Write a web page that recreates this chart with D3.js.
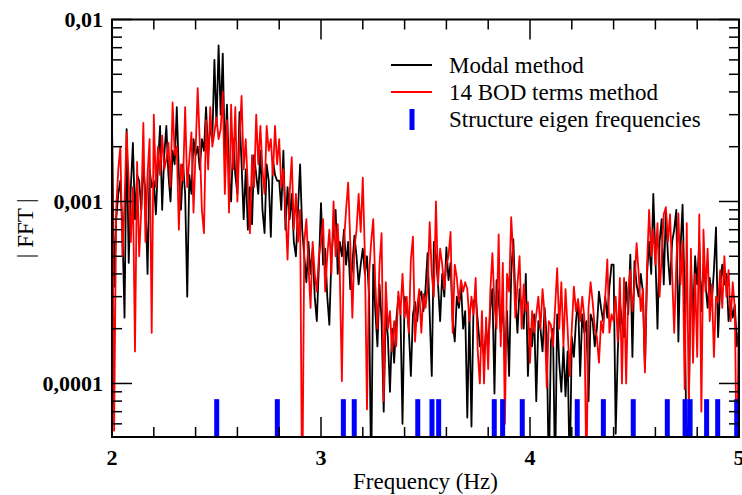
<!DOCTYPE html>
<html>
<head>
<meta charset="utf-8">
<script src="https://cdn.jsdelivr.net/npm/d3@7"></script>
<style>
  body { margin: 0; background: #fff; }
  svg { display: block; }
  svg text { font-family: 'Liberation Serif', 'DejaVu Serif', 'Times New Roman', Times, serif; }
</style>
</head>
<body>
<svg id="chart" width="742" height="495"></svg>
<script>
// spectrum sampled every 0.01 Hz from 2 Hz to 5 Hz
const freqStart = 2, freqStep = 0.01;

// |FFT| of the modal method (black)
const modalValues = [
  2.7e-3, 3.4e-4, 8e-4, 1.1e-3, 1.3e-3, 7e-4, 2.3e-4, 2.5e-3, 4.6e-4, 1.2e-3,
  2.1e-3, 8e-4, 1.4e-3, 1.3e-3, 9e-4, 1.6e-3, 1.1e-3, 4e-4, 1.5e-3, 1.2e-3,
  1.3e-3, 8.5e-4, 1.6e-3, 2.6e-3, 9e-4, 1.8e-3, 2.6e-3, 1.4e-3, 1e-3, 1.9e-3,
  1.6e-3, 3.3e-3, 1.4e-3, 9e-4, 1.6e-3, 1.1e-3, 3e-4, 1.4e-3, 1.1e-3, 2.2e-3,
  1.8e-3, 2e-3, 1.5e-3, 2.2e-3, 1.9e-3, 3.3e-3, 1.8e-3, 2.6e-3, 2.2e-3, 6e-3,
  2.6e-3, 7.2e-3, 3e-3, 6.5e-3, 1.7e-3, 3.4e-3, 1.4e-3, 1e-3, 2.2e-3, 1.4e-3,
  1.1e-3, 3.1e-3, 1.6e-3, 8e-4, 1.5e-3, 7e-4, 1.2e-3, 7.5e-4, 1.8e-3, 1.4e-3,
  1.1e-3, 1.9e-3, 9e-4, 6.7e-4, 1.6e-3, 1.3e-3, 6.4e-4, 1.7e-3, 1.4e-3, 1.3e-3,
  1.3e-3, 9e-4, 1.9e-3, 7e-4, 1.2e-3, 8e-4, 1.1e-3, 6e-4, 5e-4, 9e-4,
  1.6e-3, 7e-4, 5e-4, 3.6e-4, 6e-4, 4e-4, 5.5e-4, 3e-4, 2.2e-4, 4.5e-4,
  9.8e-4, 4.5e-4, 5.5e-4, 3e-4, 2.1e-4, 5e-4, 7e-4, 9e-4, 4e-4, 6e-4,
  5e-4, 7e-4, 4.5e-4, 6e-4, 3.3e-4, 4.5e-4, 6.5e-4, 5e-4, 3.5e-4, 4.5e-4,
  5.5e-4, 4e-4, 5e-4, 3e-4, 3e-5, 4.5e-4, 2.5e-4, 1.6e-4, 3.5e-4, 2.2e-4,
  7e-5, 2.5e-4, 1.8e-4, 9e-5, 2e-4, 1.3e-4, 2.2e-4, 3e-4, 2.5e-4, 6e-5,
  3e-4, 2.6e-4, 2e-4, 1.1e-4, 2.4e-4, 2.8e-4, 2.2e-4, 3e-4, 3.2e-4, 2.5e-4,
  3.3e-4, 5.2e-4, 2.4e-4, 1.1e-4, 6e-4, 5e-4, 3.5e-4, 2.2e-4, 4e-4, 3e-4,
  5.6e-4, 3.7e-4, 4.6e-4, 2.2e-4, 1.7e-4, 3e-4, 2.6e-4, 3.5e-4, 2e-4, 2.5e-4,
  6.5e-5, 2.5e-4, 5.8e-5, 2.8e-4, 3e-4, 2.2e-4, 1.6e-4, 1.7e-4, 1.4e-4, 2e-4,
  1.6e-4, 2.6e-4, 3.3e-4, 8.8e-5, 3.7e-4, 3e-4, 1.9e-4, 2.8e-4, 1.3e-4, 2.5e-4,
  1.1e-4, 4e-4, 6.2e-4, 3e-4, 1.9e-4, 3.3e-4, 2.6e-4, 2e-4, 4e-4, 1.1e-4,
  2e-4, 1.6e-4, 2.4e-4, 8e-5, 2.2e-4, 2e-4, 1.5e-4, 2.6e-4, 1.8e-4, 3e-5,
  1.7e-4, 2e-4, 3e-5, 2.4e-4, 1.3e-4, 9e-5, 1.6e-4, 8.5e-5, 1.5e-4, 3e-5,
  1.8e-4, 1.4e-4, 2.2e-4, 2.9e-4, 1.1e-4, 2.4e-4, 1.9e-4, 2.2e-4, 8e-5, 2.4e-4,
  2.2e-4, 1.6e-4, 2e-4, 3.2e-4, 2.6e-4, 2.2e-4, 3e-4, 2.3e-4, 3.4e-4, 4.5e-4,
  4.5e-4, 5.3e-5, 1.5e-4, 2.8e-4, 2.2e-4, 1.8e-4, 3.6e-4, 2.4e-4, 5.1e-4, 1.4e-4,
  4.7e-4, 3.5e-4, 3e-4, 4e-4, 3.2e-4, 1.2e-4, 4e-4, 6e-4, 4e-4, 1.1e-3,
  5e-4, 2e-4, 6e-4, 8e-4, 3.5e-4, 8.8e-4, 5e-4, 3.5e-4, 6e-4, 7e-4,
  9e-4, 1.7e-4, 5.5e-4, 9.6e-4, 3e-4, 3e-5, 7.9e-5, 4.5e-4, 2.2e-4, 5e-4,
  3.5e-4, 6e-4, 2.5e-4, 4.5e-4, 3.5e-4, 2.6e-4, 3.8e-4, 2.8e-4, 4.2e-4, 7.2e-4,
  1.8e-4, 3.4e-4, 4.5e-4, 3.5e-4, 4e-4, 2.2e-4, 2.8e-4, 2.3e-4, 2.7e-4, 1.6e-4, 2e-4
];

// |FFT| of the 14 BOD terms method (red)
const bodValues = [
  2.8e-3, 5.5e-5, 9e-4, 1.5e-3, 2e-3, 5e-4, 1e-3, 2.4e-3, 1.3e-3, 6e-4,
  1.2e-3, 1.5e-4, 1.65e-3, 5e-4, 9e-4, 2.7e-3, 6e-4, 1.4e-3, 2.2e-3, 1.9e-4,
  3e-3, 1.2e-3, 2e-3, 1.4e-3, 2.3e-3, 1.5e-3, 1.7e-3, 2.1e-3, 1.2e-3, 3.5e-3,
  1.8e-3, 2e-3, 7e-4, 1.6e-3, 1.3e-3, 3.3e-3, 1.2e-3, 1.7e-3, 2.4e-3, 8.7e-4,
  1.9e-3, 4.2e-3, 2.1e-3, 9e-4, 6.7e-4, 2.8e-3, 1.5e-3, 3.3e-3, 2e-3, 2.4e-3,
  2.9e-3, 2.2e-3, 2.5e-3, 4e-3, 1.1e-3, 2.8e-3, 8.7e-4, 3.4e-3, 1.5e-3, 3.3e-3,
  1e-3, 2.2e-3, 3.8e-3, 1.5e-3, 2.2e-3, 1.2e-3, 6.7e-4, 1.8e-3, 1.2e-3, 3e-3,
  1.6e-3, 2.6e-3, 1.5e-3, 1.1e-3, 2.6e-3, 1.9e-3, 2.2e-3, 1.4e-3, 2.6e-3, 1.6e-3,
  2.2e-3, 1.2e-3, 1.5e-3, 9e-4, 4.8e-4, 1.1e-3, 1.75e-3, 7e-4, 1.1e-3, 6e-4,
  9e-4, 2e-5, 6e-4, 8e-4, 4.5e-4, 2.6e-4, 6e-4, 4e-4, 3.2e-4, 5e-4,
  6e-4, 8e-4, 3.2e-4, 5e-4, 7e-4, 4e-4, 1e-3, 5e-4, 7.5e-4, 4e-4,
  1.03e-4, 6e-4, 9e-4, 1.27e-3, 6e-4, 2.3e-4, 5.5e-4, 7e-4, 1.1e-3, 6.8e-4,
  1.35e-3, 5e-4, 7.2e-5, 4e-4, 6e-4, 8e-4, 3.5e-4, 2e-4, 4.5e-4, 6.7e-4,
  8e-5, 3.6e-4, 2e-4, 2.5e-4, 1.5e-4, 2.2e-4, 1.6e-4, 3.2e-4, 2.4e-4, 4e-4,
  2.3e-4, 3e-4, 1.9e-4, 4.8e-4, 6.4e-4, 1.7e-4, 2.6e-4, 3.3e-4, 1.9e-4, 3.1e-4,
  2.6e-4, 3.4e-4, 7.7e-4, 4e-4, 3e-4, 1e-3, 3.5e-4, 5.5e-4, 4.5e-4, 3.3e-4,
  4.5e-4, 5e-4, 6.8e-4, 1.9e-4, 4.5e-4, 3.8e-4, 2.8e-4, 3.7e-4, 3.2e-4, 3.6e-4,
  3.3e-4, 2.2e-4, 3e-4, 2.4e-4, 3.8e-4, 1.5e-4, 1e-4, 2.5e-4, 1e-4, 2.3e-4,
  1.2e-4, 3.2e-4, 5.2e-4, 2.7e-4, 2e-4, 6.6e-4, 1.6e-4, 4.6e-4, 6e-5, 4e-4,
  3.2e-4, 8.2e-4, 5e-4, 2.3e-4, 3.5e-4, 5e-4, 2e-4, 3.5e-4, 2.5e-4, 2.8e-4,
  1.3e-4, 2.5e-4, 1.9e-4, 2.4e-4, 3e-4, 2e-4, 3.3e-4, 2.4e-4, 9.5e-5, 2.2e-4,
  2.1e-4, 1.6e-4, 2.6e-4, 4.3e-4, 2e-4, 3.6e-4, 1.6e-4, 3.3e-4, 2e-4, 1.1e-4,
  2e-4, 3.4e-4, 2.5e-4, 2.9e-4, 2.2e-4, 3e-4, 2.3e-4, 3e-5, 2.6e-4, 3.6e-4,
  2.8e-4, 2e-4, 1.8e-4, 1.3e-4, 2.2e-4, 1.9e-4, 3e-4, 4.8e-4, 1.9e-4, 2.4e-4,
  2.2e-4, 3e-4, 1.7e-4, 3.8e-4, 1e-4, 3.8e-4, 1e-4, 3.2e-4, 4.2e-4, 2.5e-4,
  3.5e-4, 5.9e-4, 4e-4, 2.5e-4, 3.3e-4, 1.15e-4, 4.5e-4, 9e-4, 5e-4, 7e-4,
  4.5e-4, 7.6e-4, 3e-4, 5e-4, 8.5e-4, 9.3e-4, 6e-4, 8.5e-4, 4e-4, 1.9e-4,
  4.5e-4, 8.6e-4, 3.5e-4, 6e-4, 9.3e-5, 7.6e-4, 7e-5, 5.5e-4, 1.3e-4, 4e-4,
  1.4e-4, 8.5e-4, 7e-5, 7e-4, 3.2e-4, 5.5e-4, 2.2e-4, 3.5e-4, 1.4e-4, 3e-4,
  2.8e-4, 4.2e-4, 2.6e-4, 5e-4, 3e-4, 4.2e-4, 2.2e-4, 3.6e-4, 2.6e-4, 3e-5, 3e-4
];

// structure eigen frequencies (Hz), drawn as short blue bars
const eigenFrequencies = [2.501, 2.791, 3.107, 3.159, 3.463, 3.531, 3.563, 3.829, 3.869,
  3.963, 4.226, 4.351, 4.494, 4.657, 4.742, 4.766, 4.845, 4.898, 4.989];
const eigenBarTop = 8.2e-5;

const xDomain = [2, 5];
const yDomain = [5.08e-5, 0.01];
const xMajorTicks = [2, 3, 4, 5];
const xMinorTicks = [2.2, 2.4, 2.6, 2.8, 3.2, 3.4, 3.6, 3.8, 4.2, 4.4, 4.6, 4.8];
const yMajorTicks = [1e-4, 1e-3, 1e-2];
const yTickLabels = ["0,0001", "0,001", "0,01"];

const legendItems = [
  { label: "Modal method", color: "#000000", type: "line" },
  { label: "14 BOD terms method", color: "#ff0000", type: "line" },
  { label: "Structure eigen frequencies", color: "#0000ff", type: "bar" }
];

const fontFamily = "'Liberation Serif', 'DejaVu Serif', serif";
const svg = d3.select("#chart").attr("font-family", fontFamily);
const plotLeft = 112, plotRight = 739, plotTop = 19.5, plotBottom = 437;

const x = d3.scaleLinear().domain(xDomain).range([plotLeft, plotRight]);
const y = d3.scaleLog().domain(yDomain).range([plotBottom, plotTop]);

const modal = modalValues.map((v, i) => ({ f: freqStart + i * freqStep, v }));
const bod = bodValues.map((v, i) => ({ f: freqStart + i * freqStep, v }));

svg.append("clipPath").attr("id", "plot-clip")
  .append("rect")
  .attr("x", plotLeft).attr("y", plotTop)
  .attr("width", plotRight - plotLeft).attr("height", plotBottom - plotTop);

const plot = svg.append("g").attr("clip-path", "url(#plot-clip)");

const line = d3.line()
  .x(d => x(d.f))
  .y(d => y(d.v));

plot.append("path")
  .datum(modal)
  .attr("fill", "none")
  .attr("stroke", "#000")
  .attr("stroke-width", 1.8)
  .attr("stroke-linejoin", "round")
  .attr("d", line);

plot.append("path")
  .datum(bod)
  .attr("fill", "none")
  .attr("stroke", "#ff0000")
  .attr("stroke-width", 1.8)
  .attr("stroke-linejoin", "round")
  .attr("d", line);

// eigen frequency markers
plot.selectAll("rect.eigen")
  .data(eigenFrequencies)
  .join("rect")
  .attr("class", "eigen")
  .attr("x", d => x(d) - 2.5)
  .attr("y", y(eigenBarTop))
  .attr("width", 5)
  .attr("height", plotBottom - y(eigenBarTop))
  .attr("fill", "#0000ff");

// ticks pointing inwards on all four sides
function hTicks(values, yPos, len) {
  svg.append("g").selectAll("line")
    .data(values)
    .join("line")
    .attr("x1", d => x(d)).attr("x2", d => x(d))
    .attr("y1", yPos).attr("y2", yPos + len)
    .attr("stroke", "#000").attr("stroke-width", 1.5);
}
function vTicks(values, xPos, len) {
  svg.append("g").selectAll("line")
    .data(values)
    .join("line")
    .attr("y1", d => y(d)).attr("y2", d => y(d))
    .attr("x1", xPos).attr("x2", xPos + len)
    .attr("stroke", "#000").attr("stroke-width", 1.5);
}

const yMinorTicks = y.ticks().filter(t => !yMajorTicks.some(m => Math.abs(m - t) / m < 1e-6));

hTicks(xMajorTicks, plotBottom, -20);
hTicks(xMinorTicks, plotBottom, -10);
hTicks(xMajorTicks, plotTop, 20);
hTicks(xMinorTicks, plotTop, 10);
vTicks(yMajorTicks, plotLeft, 20);
vTicks(yMinorTicks, plotLeft, 10);
vTicks(yMajorTicks, plotRight, -20);
vTicks(yMinorTicks, plotRight, -10);

// frame
svg.append("rect")
  .attr("x", plotLeft).attr("y", plotTop)
  .attr("width", plotRight - plotLeft).attr("height", plotBottom - plotTop)
  .attr("fill", "none")
  .attr("stroke", "#000")
  .attr("stroke-width", 2);

// tick labels
svg.append("g").selectAll("text")
  .data(xMajorTicks)
  .join("text")
  .attr("x", d => x(d))
  .attr("y", 465)
  .attr("text-anchor", "middle")
  .attr("font-size", 22)
  .attr("font-weight", "bold")
  .text(d => d);

svg.append("g").selectAll("text")
  .data(yMajorTicks)
  .join("text")
  .attr("x", 103)
  .attr("y", d => y(d) + 7.5)
  .attr("text-anchor", "end")
  .attr("font-size", 22)
  .attr("font-weight", "bold")
  .text((d, i) => yTickLabels[i]);

// axis titles
svg.append("text")
  .attr("x", (plotLeft + plotRight) / 2)
  .attr("y", 489)
  .attr("text-anchor", "middle")
  .attr("font-size", 23)
  .text("Frequency (Hz)");

svg.append("text")
  .attr("transform", `translate(33,${(plotTop + plotBottom) / 2}) rotate(-90)`)
  .attr("text-anchor", "middle")
  .attr("font-size", 23)
  .text("| FFT |");

// legend
const legend = svg.append("g");
legendItems.forEach((item, i) => {
  const cy = 65 + i * 27;
  if (item.type === "line") {
    legend.append("line")
      .attr("x1", 391).attr("x2", 432)
      .attr("y1", cy).attr("y2", cy)
      .attr("stroke", item.color)
      .attr("stroke-width", 1.8);
  } else {
    legend.append("rect")
      .attr("x", 409.5).attr("y", cy - 10)
      .attr("width", 5).attr("height", 21)
      .attr("fill", item.color);
  }
  legend.append("text")
    .attr("x", 449)
    .attr("y", cy + 8)
    .attr("font-size", 23)
    .text(item.label);
});
</script>
</body>
</html>
